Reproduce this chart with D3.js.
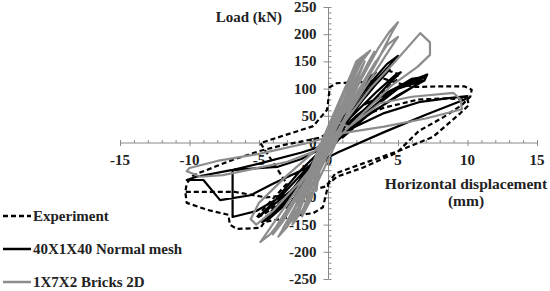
<!DOCTYPE html>
<html>
<head>
<meta charset="utf-8">
<script src="https://cdn.jsdelivr.net/npm/d3@7"></script>
<style>
  body { margin: 0; background: #fff; }
  svg text { font-family: "Liberation Serif", "Times New Roman", serif; font-weight: bold; fill: #222; }
</style>
</head>
<body>
<div id="chart"></div>
<script>
// ---- data: [displacement mm, load kN] ----
var experiment = [
  [0,0],[0.3,25],[0.6,45],[0.4,30],[-0.2,-15],[-0.5,-40],[-0.3,-25],[0.3,15],
  [0.9,60],[1.4,85],[1.0,65],[0,0],[-0.8,-55],[-1.3,-85],[-0.9,-65],[0,-5],
  [1.2,60],[2.5,95],[3.6,120],[4.3,133],[4.9,128],[5.0,118],[4.2,100],[2.6,62],[0.8,15],
  [-0.6,-30],[-2,-75],[-3.5,-110],[-4.6,-130],[-5.2,-138],[-4.8,-125],[-3,-75],[-4.9,0],
  [-1.1,31],[-0.1,61],[0.1,103],[0.6,110],[2.5,112],[4,118],[5,110],[6.1,103],[8,104],[9.8,104],
  [10.3,98],[10.2,85],[9.6,70],[8.3,48],[6.5,22],[4.9,-18],[2.5,-45],[0.6,-62],[0,-75],
  [-0.1,-86],[-0.4,-118],[-1.1,-129],[-2,-132],[-3.5,-140],[-4.6,-145],[-4.9,-156],[-6.6,-158],
  [-7.1,-150],[-7.2,-132],[-8.7,-123],[-10.2,-110],[-10.3,-90],[-10.2,-74],[-9.7,-59],
  [-8,-42],[-6.9,-31],[-5,-15],[-3.3,-4],[-1.5,5],[-0.6,10],[1.5,40],[4,65],[6.5,80],[8.5,82],
  [10,80],[10.1,70],[9.5,55],[7.5,11],[5,-15],[2,-42],[0.5,-56],[-0.2,-80],[-2.5,-95],
  [-4.5,-100],[-6.7,-90],[-10.3,-90]
];

var normalMesh = [
  [0,0],[0.5,30],[1.0,55],[0.7,40],[-0.3,-15],[-0.8,-45],[-0.5,-30],[0.4,20],
  [1.4,75],[2.0,100],[1.5,80],[0.2,10],[-1.2,-60],[-1.8,-90],[-1.3,-70],[0,-5],
  [1.5,70],[2.7,115],[3.4,130],[3.0,118],[1.2,50],[-0.8,-35],[-2.3,-95],[-3.0,-120],[-2.5,-105],[-0.5,-25],
  [1,30],[2.5,80],[3.5,110],[4.4,135],[3.6,115],[2,65],[0,0],[-2,-70],[-3.6,-118],[-4.1,-125],[-3,-100],[-1,-30],
  [1.5,60],[3.0,110],[4.2,145],[5.0,160],[4.6,148],[3.2,110],[1.0,35],[-1.5,-60],[-3.2,-115],
  [-4.3,-140],[-4.8,-145],[-4.0,-128],[-2,-70],[0,-10],
  [1.5,45],[3.5,95],[4.8,125],[5.2,130],[4.2,105],[1.8,40],[-0.5,-30],[-2.8,-90],[-4.5,-125],[-5,-135],[-4,-110],[-2,-50],
  [2,50],[4,90],[5.5,110],[6.5,120],[7.1,126],[6.9,115],[5,88],[2.5,45],[0.5,5],[-1.5,-45],
  [-3.5,-100],[-5.2,-125],[-6.9,-136],[-6.9,-50],[-5.5,-47],[-3.7,-44],[-2,-30],[-0.5,-10],
  [0.5,20],[2.5,70],[5,100],[6.8,115],[6,102],[3,55],[1,10],
  [1.5,25],[4,55],[6.5,75],[8.5,82],[10,86],[9.8,80],[7,52],[4,20],[0.7,-17],[-1.5,-45],
  [-4,-75],[-5.6,-96],[-7.8,-105],[-9,-68],[-10.2,-68],[-9.5,-62],[-7,-50],
  [-5,-38],[-2,-18],[0,-2],[2,40],[4.5,95],[6,118],[7,122],[5,100],[2,40],[-1,-40],[-3.5,-120],[-4.5,-135]
];

var bricks2D = [
  [0,0],[0.6,35],[1.2,65],[0.8,45],[-0.4,-20],[-1.0,-55],[-0.6,-35],[0.5,25],
  [1.5,85],[2.2,120],[1.7,98],[0.1,10],[-1.3,-70],[-2.0,-105],[-1.5,-85],[0.3,15],
  [2.0,105],[2.8,145],[3.3,168],[2.7,140],[0.6,30],[-1.6,-80],[-2.8,-135],[-3.3,-158],[-2.6,-130],[-0.2,-10],
  [1.0,70],[2.0,130],[2.6,160],[2.1,140],[0.5,40],[-1.0,-50],[-2.2,-120],[-2.9,-150],[-2.2,-130],[-0.4,-20],
  [2.2,110],[3.6,175],[4.4,205],[5.0,222],[4.6,205],[3.5,150],[1.2,45],[-1.2,-60],[-3.0,-130],
  [-4.2,-168],[-4.9,-182],[-4.3,-160],[-2,-75],[0.4,20],
  [0.8,70],[1.6,120],[2.3,155],[1.6,125],[-0.2,20],[-1.5,-60],[-2.5,-125],[-3.6,-172],[-3.0,-155],[-1.0,-70],
  [2.8,125],[4.2,180],[5.0,195],[4.4,172],[2.2,85],[-0.4,-20],[-2.8,-115],[-3.8,-155],[-4.0,-168],[-3.3,-145],[-1.2,-55],
  [0.2,30],[1.2,100],[2.0,150],[3.0,170],[2.4,150],[0.9,80],[-0.6,-10],[-1.8,-90],[-2.4,-140],[-1.6,-115],[0,-30],
  [1.2,40],[3,100],[4.8,150],[6.6,202],[7.3,185],[7.3,162],[6.4,140],[4.5,105],[2.5,55],[0.3,0],
  [-2,-70],[-4,-125],[-5.2,-150],[-5.6,-140],[-5.0,-110],[-3,-60],[-1,-15],
  [1.3,60],[2.8,125],[3.4,150],[2.5,110],[0.2,0],[-1.4,-95],[-1.9,-135],[-1.2,-100],[0.4,40],
  [1.5,30],[3.7,73],[6,85],[9,92],[9.5,80],[9.6,62],[7,45],[4,30],[1,18],[-1.5,0],[-5,-20],
  [-8,-33],[-10,-46],[-10.2,-52],[-9.2,-62],[-7.6,-59],[-3,-35],[-1,-15],[0,0],
  [1.5,80],[2.6,150],[1.8,110],[-0.2,5],[-1.8,-100],[-2.6,-150],[-1.8,-120],[0.2,10],
  [1.0,90],[0.5,60],[-0.6,-45],[-0.9,-90]
];

var xTicks = [-15, -10, -5, 0, 5, 10, 15];
var yTicks = [-250, -200, -150, -100, -50, 0, 50, 100, 150, 200, 250];
var legendNames = ["Experiment", "40X1X40 Normal mesh", "1X7X2 Bricks 2D"];

// ---- svg ----
var svgWidth = 550, svgHeight = 291;

var svg = d3.select("#chart")
  .append("svg")
  .attr("width", svgWidth)
  .attr("height", svgHeight);

var xScale = d3.scaleLinear().domain([-15, 15]).range([120, 537]);
var yScale = d3.scaleLinear().domain([-250, 250]).range([279, 7]);

var axisColor = "#8a8a8a";

// x axis: minor ticks every 1 mm (upward), majors every 5 (both sides)
var xAxisG = svg.append("g").attr("transform", `translate(0, ${yScale(0)})`);
xAxisG.call(d3.axisTop(xScale).tickValues(d3.range(-15, 16, 1)).tickSize(3).tickFormat(""));
xAxisG.call(g => g.append("g").call(d3.axisBottom(xScale).tickValues(xTicks).tickSize(3).tickFormat("")));
xAxisG.selectAll("path, line").attr("stroke", axisColor);
xAxisG.selectAll(".domain").remove();
xAxisG.append("line")
  .attr("x1", xScale(-15)).attr("x2", xScale(15))
  .attr("stroke", axisColor).attr("stroke-width", 1);

svg.append("g").selectAll("text")
  .data(xTicks)
  .enter()
  .append("text")
  .attr("x", d => xScale(d))
  .attr("y", yScale(0) + 22)
  .attr("text-anchor", "middle")
  .attr("font-size", 15)
  .text(d => d);

// y axis: majors to the left, minors every 10 kN to the right
var yAxisG = svg.append("g").attr("transform", `translate(${xScale(0)}, 0)`);
yAxisG.call(d3.axisRight(yScale).tickValues(d3.range(-250, 251, 10)).tickSize(3).tickFormat(""));
yAxisG.call(g => g.append("g").call(d3.axisLeft(yScale).tickValues(yTicks).tickSize(5).tickFormat("")));
yAxisG.selectAll("path, line").attr("stroke", axisColor);
yAxisG.selectAll(".domain").remove();
yAxisG.append("line")
  .attr("y1", yScale(250)).attr("y2", yScale(-250))
  .attr("stroke", axisColor).attr("stroke-width", 1);

svg.append("g").selectAll("text")
  .data(yTicks)
  .enter()
  .append("text")
  .attr("x", xScale(0) - 12)
  .attr("y", d => yScale(d) + 5)
  .attr("text-anchor", "end")
  .attr("font-size", 15)
  .text(d => d);

// axis titles
svg.append("text")
  .attr("x", 282).attr("y", 22)
  .attr("text-anchor", "end")
  .attr("font-size", 15)
  .text("Load (kN)");

svg.append("text")
  .attr("x", 466).attr("y", 189)
  .attr("text-anchor", "middle")
  .attr("font-size", 15.5)
  .text("Horizontal displacement");

svg.append("text")
  .attr("x", 466).attr("y", 206)
  .attr("text-anchor", "middle")
  .attr("font-size", 15.5)
  .text("(mm)");

// ---- curves ----
var line = d3.line()
  .x(d => xScale(d[0]))
  .y(d => yScale(d[1]));

var series = [
  { data: experiment, color: "#000", dash: "5,3" },
  { data: normalMesh, color: "#000", dash: null },
  { data: bricks2D, color: "#8c8c8c", dash: null }
];

svg.append("g").selectAll("path")
  .data(series)
  .enter()
  .append("path")
  .attr("d", d => line(d.data))
  .attr("fill", "none")
  .attr("stroke", d => d.color)
  .attr("stroke-width", 2.2)
  .attr("stroke-linejoin", "round")
  .attr("stroke-dasharray", d => d.dash);

// ---- legend ----
var legendY = [216, 249, 282];
var legend = svg.append("g").selectAll("g")
  .data(series)
  .enter()
  .append("g")
  .attr("transform", (d, i) => `translate(0, ${legendY[i]})`);

legend.append("line")
  .attr("x1", 3).attr("x2", 31)
  .attr("stroke", d => d.color)
  .attr("stroke-width", 2.5)
  .attr("stroke-dasharray", d => d.dash);

legend.append("text")
  .attr("x", 33).attr("y", 5)
  .attr("font-size", 15)
  .text((d, i) => legendNames[i]);
</script>
</body>
</html>
